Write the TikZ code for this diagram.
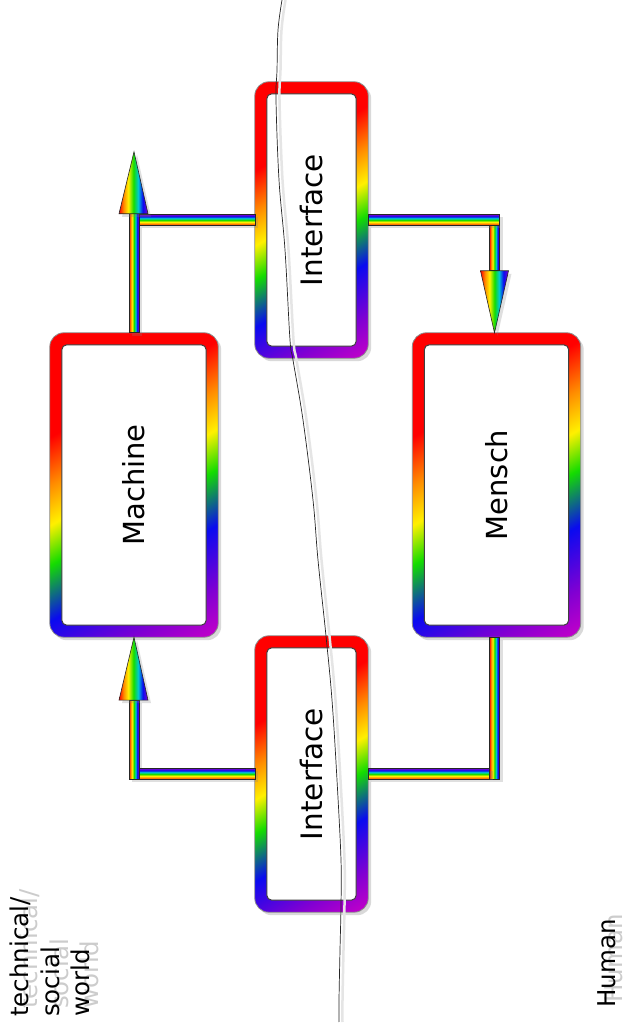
\documentclass[tikz,border=0pt]{standalone}
\usepackage{fontspec}
\setmainfont{DejaVu Sans}
\usetikzlibrary{calc,positioning,shadows,backgrounds}

\definecolor{rbred}{RGB}{255,0,0}
\definecolor{rborange}{RGB}{255,140,0}
\definecolor{rbyellow}{RGB}{255,240,0}
\definecolor{rbgreen}{RGB}{20,220,0}
\definecolor{rbcyan}{RGB}{0,200,210}
\definecolor{rbblue}{RGB}{10,10,240}
\definecolor{rbviolet}{RGB}{130,0,210}
\definecolor{rbmag}{RGB}{200,0,200}

\pgfdeclarehorizontalshading{rbh}{100bp}{color(0bp)=(rbred); color(25bp)=(rbred); color(33bp)=(rborange); color(41bp)=(rbyellow); color(50bp)=(rbgreen); color(58bp)=(rbcyan); color(66bp)=(rbblue); color(75bp)=(rbviolet); color(100bp)=(rbviolet)}
\pgfdeclareverticalshading{rbv}{100bp}{color(0bp)=(rbred); color(25bp)=(rbred); color(33bp)=(rborange); color(41bp)=(rbyellow); color(50bp)=(rbgreen); color(58bp)=(rbcyan); color(66bp)=(rbblue); color(75bp)=(rbviolet); color(100bp)=(rbviolet)}
\pgfdeclareverticalshading{rbbox}{100bp}{color(0bp)=(rbmag); color(25bp)=(rbmag); color(31bp)=(rbviolet); color(39bp)=(rbblue); color(46bp)=(rbgreen); color(51bp)=(rbyellow); color(56bp)=(rborange); color(62bp)=(rbred); color(100bp)=(rbred)}

% rainbow frame round a named node: name, width, height
\newcommand{\rbframe}[3]{%
  \pgfmathsetmacro{\rbhw}{(#2*cos(30)+#3*sin(30))/2+2}%
  \pgfmathsetmacro{\rbhh}{(#2*sin(30)+#3*cos(30))/2}%
  \fill[black!15,rounded corners=14pt] ([shift={(3,-3)}]#1.south west) rectangle ([shift={(3,-3)}]#1.north east);
  \begin{scope}
    \clip[rounded corners=14pt] (#1.south west) rectangle (#1.north east);
    \shade[shading=rbbox,transform canvas={rotate around={30:(#1.center)}}] ($(#1.center)+(-\rbhw,-\rbhh)$) rectangle ($(#1.center)+(\rbhw,\rbhh)$);
  \end{scope}
  \filldraw[fill=white,draw=black!75,line width=1pt,rounded corners=5pt] ([shift={(12,12)}]#1.south west) rectangle ([shift={(-12,-12)}]#1.north east);
  \draw[black!45,line width=0.8pt,rounded corners=14pt] (#1.south west) rectangle (#1.north east);}

\tikzset{
  mainbox/.style={inner sep=0,minimum width=168,minimum height=304,font=\fontsize{29}{34}\selectfont},
  ifacebox/.style={inner sep=0,minimum width=113,minimum height=276,font=\fontsize{29.5}{34}\selectfont},
  rbline/.style={draw=black!85,line width=0.6pt,drop shadow={shadow xshift=3pt,shadow yshift=-3pt,opacity=0.25}},
  lbl/.style={rotate=90,anchor=north west,inner sep=0,align=left,font=\fontsize{24.5}{30.5}\selectfont}
}

\begin{document}
\begin{tikzpicture}[x=1pt,y=1pt]
\useasboundingbox (0,0) rectangle (627,1035);

\node[mainbox] (machine) at (134,550) {\rotatebox{90}{Machine}};
\node[mainbox] (mensch) at (496.5,550) {\rotatebox{90}{Mensch}};
\node[ifacebox] (ifT) at (311.5,815) {\rotatebox{90}{Interface}};
\node[ifacebox] (ifB) at (311.5,261) {\rotatebox{90}{Interface}};
\begin{scope}[on background layer]
\fill[white] (0,0) rectangle (627,1035);
\rbframe{machine}{168}{304} \rbframe{mensch}{168}{304} \rbframe{ifT}{113}{276} \rbframe{ifB}{113}{276}
\end{scope}

\coordinate (upA) at ($(machine.north)+(0,181)$);
\coordinate (dnB) at ($(mensch.north)+(-2,0)$);
\coordinate (dnD) at ($(mensch.south)+(-2,0)$);

% upper interface -> machine side
\shadedraw[shading=rbh,rbline] ($(machine.north)+(-5,0)$) rectangle ($(upA)+(5,-62)$);
\shadedraw[shading=rbv,rbline] ($(machine.north |- ifT.west)+(5,-5.5)$) rectangle ($(ifT.west)+(0,5.5)$);
\shadedraw[shading=rbh,rbline] ($(upA)+(-15,-62)$) -- (upA) -- ($(upA)+(14,-62)$) -- cycle;

% upper interface -> Mensch
\shadedraw[shading=rbh,rbline] ($(dnB)+(-5,62)$) rectangle ($(dnB |- ifT.east)+(5,-5.5)$);
\shadedraw[shading=rbv,rbline] ($(ifT.east)+(0,-5.5)$) rectangle ($(dnB |- ifT.east)+(5,5.5)$);
\shadedraw[shading=rbh,rbline] ($(dnB)+(-14,62)$) -- (dnB) -- ($(dnB)+(14,62)$) -- cycle;

% lower interface -> machine
\shadedraw[shading=rbh,rbline] ($(machine.south |- ifB.west)+(-5,-5.5)$) rectangle ($(machine.south)+(5,-63)$);
\shadedraw[shading=rbv,rbline] ($(machine.south |- ifB.west)+(5,-5.5)$) rectangle ($(ifB.west)+(0,5.5)$);
\shadedraw[shading=rbh,rbline] ($(machine.south)+(-15,-63)$) -- (machine.south) -- ($(machine.south)+(14,-63)$) -- cycle;

% Mensch -> lower interface
\shadedraw[shading=rbh,rbline] ($(dnD)+(-5,0)$) rectangle ($(dnD |- ifB.east)+(5,-5.5)$);
\shadedraw[shading=rbv,rbline] ($(ifB.east)+(0,-5.5)$) rectangle ($(dnD |- ifB.east)+(-5,5.5)$);

% border line
\draw[black!10,line width=2.5pt,xshift=3.5pt] plot[smooth,tension=0.6] coordinates {(282,1035) (278,1005) (277,965) (276,935) (279,855) (285,785) (290,695) (293,675) (303,615) (313,535) (318,475) (326,399) (332,335) (337,255) (341,175) (341,130) (340,85) (339,35) (339,13)};
\draw[black!85,line width=0.7pt] plot[smooth,tension=0.6] coordinates {(282,1035) (278,1005) (277,965) (276,935) (279,855) (285,785) (290,695) (293,675) (303,615) (313,535) (318,475) (326,399) (332,335) (337,255) (341,175) (341,130) (340,85) (339,35) (339,13)};

\node[lbl,gray!40] (worldS) at (19,26) {technical/\\social\\world};
\node[lbl] (world) at (10,18) {technical/\\social\\world};
\node[lbl,gray!40] (humanS) at (604,32) {Human};
\node[lbl] (human) at (597,27) {Human};
\end{tikzpicture}
\end{document}
